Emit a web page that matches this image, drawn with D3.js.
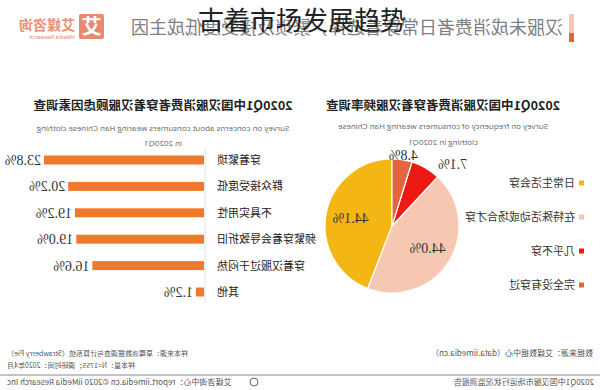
<!DOCTYPE html>
<html><head><meta charset="utf-8">
<script src="https://cdn.jsdelivr.net/npm/d3@7/dist/d3.min.js"></script>
<style>body{margin:0;background:#fff}svg{display:block}</style>
</head><body>
<svg id="c" width="600" height="390"></svg>
<script>
// ---- data ----
const overlayTitle = "古着市场发展趋势";
const headerText = "汉服未成消费者日常穿着选择，繁琐及接受度低成主因";
const barTitle = "2020Q1中国汉服消费者穿着汉服顾虑因素调查";
const barSub = ["Survey on concerns about consumers wearing Han Chinese clothing", "in 2020Q1"];
const barCats = ["穿着繁琐", "群众接受度低", "不具实用性", "频繁穿着会导致折旧", "穿着汉服过于闷热", "其他"];
const barVals = [23.8, 20.2, 19.2, 19.0, 16.6, 1.2];
const pieTitle = "2020Q1中国汉服消费者穿着汉服频率调查";
const pieSub = ["Survey on frequency of consumers wearing Han Chinese", "clothing in 2020Q1"];
const pieCats = ["日常生活会穿", "在特殊活动或场合才穿", "几乎不穿", "完全没有穿过"];
const pieVals = [44.1, 44.0, 7.1, 4.8];
const pieColors = ["#F4B614", "#F6C8B2", "#EC1A12", "#E2663F"];
const footLeft = "数据来源：艾媒数据中心（data.iimedia.cn）";
const footNotes = ["样本来源：草莓派数据调查与计算系统（Strawberry Pie）", "样本量：N=1755；调研时间：2020年4月"];
const footBottomL = "2020Q1中国汉服市场运行状况监测报告";
const footBottomR = "艾媒咨询中心：report.iimedia.cn   ©2020  iiMedia Research  Inc";

const svg = d3.select("#c");
svg.append("rect").attr("width",600).attr("height",390).attr("fill","#fff");
const cjk = "'Noto Sans CJK SC','Noto Sans',sans-serif";
// whole infographic drawn mirrored
const g = svg.append("g").attr("transform","translate(600,0) scale(-1,1)");

// header accent bar
g.append("rect").attr("x",26).attr("y",14).attr("width",5).attr("height",20).attr("fill","#F6C9B6");
g.append("rect").attr("x",26).attr("y",33).attr("width",5).attr("height",9).attr("fill","#E0652F");
g.append("text").attr("x",37).attr("y",34).attr("font-family",cjk).attr("font-size",18)
 .attr("fill","#808080").text(headerText);

// logo
g.append("rect").attr("x",496).attr("y",14).attr("width",25).attr("height",25).attr("rx",2).attr("fill","#E98A70");
g.append("text").attr("x",508.5).attr("y",34).attr("text-anchor","middle").attr("font-family",cjk)
 .attr("font-weight","bold").attr("font-size",20).attr("fill","#fff").text("艾");
g.append("text").attr("x",525).attr("y",30).attr("font-family",cjk).attr("font-weight","bold")
 .attr("font-size",14).attr("fill","#E99077").text("艾媒咨询");
g.append("text").attr("x",525).attr("y",39).attr("font-family","Roboto,sans-serif")
 .attr("font-size",6).attr("fill","#E99077").text("iiMedia Research");

// ---- bar panel (right side, unmirrored coords) ----
const bx0 = 395;
g.append("text").attr("x",437).attr("y",110).attr("text-anchor","middle").attr("font-family",cjk)
 .attr("font-weight","bold").attr("font-size",12.5).attr("fill","#222").text(barTitle);
barSub.forEach((s,i)=>g.append("text").attr("x",437).attr("y",131+i*15).attr("text-anchor","middle")
 .attr("font-family","'Open Sans',sans-serif").attr("font-size",8).attr("fill","#666").text(s));
const xB = d3.scaleLinear().domain([0, 23.8]).range([0, 160]);
const yB = d3.scalePoint().domain(barCats).range([160, 292]);
g.append("line").attr("x1",bx0).attr("x2",bx0).attr("y1",148).attr("y2",302).attr("stroke","#e2e2e2");
g.selectAll(".bar").data(barVals).join("rect").attr("class","bar")
 .attr("x",bx0+1).attr("y",(d,i)=>yB(barCats[i])-4.5).attr("width",d=>xB(d)).attr("height",9).attr("fill","#EF7A2E");
g.selectAll(".bv").data(barVals).join("text").attr("class","bv")
 .attr("x",d=>bx0+xB(d)+4).attr("y",(d,i)=>yB(barCats[i])+5).attr("font-family","'Liberation Serif',serif")
 .attr("font-size",14).attr("fill","#333").text(d=>d.toFixed(1)+"%");
g.selectAll(".bc").data(barCats).join("text").attr("class","bc")
 .attr("x",383).attr("y",d=>yB(d)+4).attr("text-anchor","end").attr("font-family",cjk)
 .attr("font-size",11).attr("fill","#222").text(d=>d);

// ---- pie panel (left side, unmirrored coords) ----
g.append("text").attr("x",157).attr("y",110).attr("text-anchor","middle").attr("font-family",cjk)
 .attr("font-weight","bold").attr("font-size",12.5).attr("fill","#222").text(pieTitle);
pieSub.forEach((s,i)=>g.append("text").attr("x",157).attr("y",129+i*16).attr("text-anchor","middle")
 .attr("font-family","'Open Sans',sans-serif").attr("font-size",8).attr("fill","#666").text(s));
const cx = 208, cy = 226, R = 67;
const pie = d3.pie().sort(null).value(d=>d);
const arcs = pie(pieVals);
const arc = d3.arc().innerRadius(0).outerRadius(R);
const pg = g.append("g").attr("transform",`translate(${cx},${cy})`);
pg.selectAll("path").data(arcs).join("path").attr("d",arc).attr("fill",(d,i)=>pieColors[i])
 .attr("stroke","#fff").attr("stroke-width",1.2);
const inArc = d3.arc().innerRadius(42).outerRadius(42);
const outArc = d3.arc().innerRadius(76).outerRadius(76);
pg.selectAll(".pl").data(arcs).join("text").attr("class","pl")
 .attr("transform",(d,i)=>{const big=d.data>20;const p=(big?inArc:outArc).centroid(d);return `translate(${p[0]},${p[1]+(big?5:9)})`;})
 .attr("text-anchor",(d,i)=>d.data>20?"middle":(i===2?"end":"middle"))
 .attr("dx",(d,i)=>i===2?-8:0)
 .attr("font-family","'Liberation Serif',serif").attr("font-size",14).attr("fill","#333")
 .text(d=>d.data.toFixed(1)+"%");
const yL = d3.scalePoint().domain(pieCats).range([183, 285]);
g.selectAll(".lsq").data(pieCats).join("rect").attr("class","lsq")
 .attr("x",16).attr("y",d=>yL(d)-2.5).attr("width",5).attr("height",5).attr("fill",(d,i)=>pieColors[i]);
g.selectAll(".lt").data(pieCats).join("text").attr("class","lt")
 .attr("x",25).attr("y",d=>yL(d)+4).attr("font-family",cjk).attr("font-size",11).attr("fill","#333").text(d=>d);

// ---- footer ----
g.append("text").attr("x",7).attr("y",356).attr("font-family",cjk).attr("font-size",8).attr("fill","#555").text(footLeft);
footNotes.forEach((s,i)=>g.append("text").attr("x",593).attr("y",356+i*12).attr("text-anchor","end")
 .attr("font-family",cjk).attr("font-size",7).attr("fill","#555").text(s));
g.append("line").attr("x1",0).attr("x2",600).attr("y1",375).attr("y2",375).attr("stroke","#888").attr("stroke-width",1);
g.append("text").attr("x",6).attr("y",385).attr("font-family",cjk).attr("font-size",8).attr("fill","#555").text(footBottomL);
g.append("circle").attr("cx",346).attr("cy",382).attr("r",4).attr("fill","none").attr("stroke","#666");
g.append("text").attr("x",593).attr("y",385).attr("text-anchor","end").attr("font-family",cjk)
 .attr("font-size",8).attr("fill","#555").text(footBottomR);

// overlay title (not mirrored)
svg.append("text").attr("x",302).attr("y",30).attr("text-anchor","middle").attr("font-family",cjk)
 .attr("font-size",26).attr("fill","#222").text(overlayTitle);
</script>
</body></html>
